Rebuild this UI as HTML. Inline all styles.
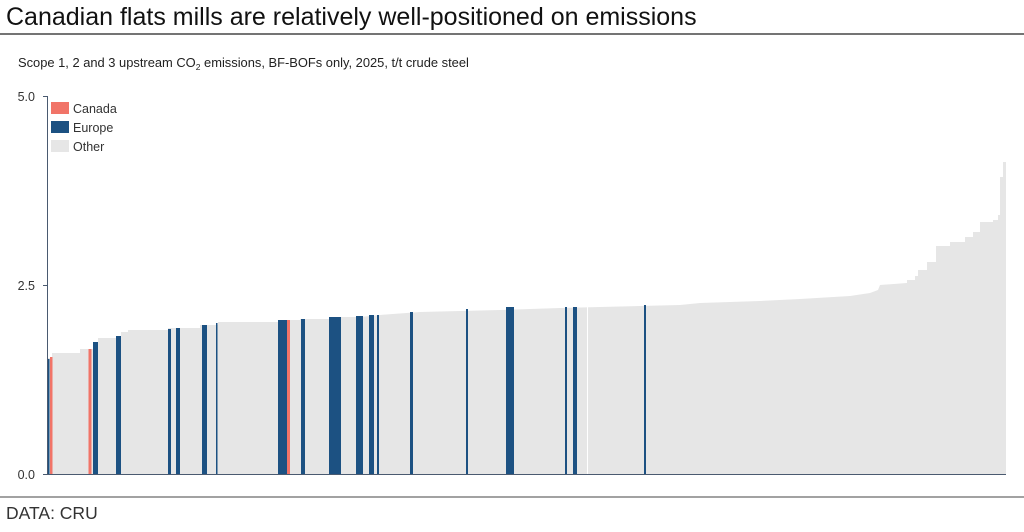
<!DOCTYPE html>
<html><head><meta charset="utf-8"><style>
body{margin:0;background:#fff;font-family:"Liberation Sans",Arial,sans-serif;}
</style></head><body>
<svg width="1024" height="527" viewBox="0 0 1024 527" xmlns="http://www.w3.org/2000/svg" font-family="Liberation Sans, Arial, sans-serif">
<text x="6" y="25" font-size="25" fill="#111">Canadian flats mills are relatively well-positioned on emissions</text>
<line x1="0" y1="34" x2="1024" y2="34" stroke="#222" stroke-width="1.2"/>
<text x="18" y="67" font-size="12.9" fill="#222">Scope 1, 2 and 3 upstream CO<tspan font-size="8.5" dy="3">2</tspan><tspan dy="-3"> emissions, BF-BOFs only, 2025, t/t crude steel</tspan></text>
<polygon fill="#e6e6e6" points="48,474 48,358 52,358 52,353 80,353 80,349 93,349 93,342 98,342 98,338 116,338 116,336 121,336 121,332 128,332 128,330 168,330 168,328 200,328 200,325 218,325 218,322 278,322 278,320 300,320 300,319 330,319 330,317 360,317 380,315 420,312 500,310 560,308 600,307 680,305 700,303 760,301 800,299 850,296 870,293 878,290 880,285 907,283 907,280 915,280 915,276 918,276 918,270 927,270 927,262 936,262 936,246 950,246 950,242 965,242 965,237 973,237 973,232 980,232 980,222 993,222 993,220 998,220 998,215 1000,215 1000,177 1003,177 1003,162 1006,162 1006,474"/>
<line x1="587.5" y1="305" x2="587.5" y2="474" stroke="#fff" stroke-width="1"/>
<g fill="#1c5182">
<rect x="48" y="359" width="1.5" height="115"/>
<rect x="93" y="342" width="5" height="132"/>
<rect x="116" y="336" width="5" height="138"/>
<rect x="168" y="329" width="3" height="145"/>
<rect x="176" y="328" width="4" height="146"/>
<rect x="202" y="325" width="5" height="149"/>
<rect x="216" y="323" width="1.5" height="151"/>
<rect x="278" y="320" width="9" height="154"/>
<rect x="301" y="319" width="4" height="155"/>
<rect x="329" y="317" width="12" height="157"/>
<rect x="356" y="316" width="7" height="158"/>
<rect x="369" y="315" width="5" height="159"/>
<rect x="377" y="315" width="2" height="159"/>
<rect x="410" y="312" width="3" height="162"/>
<rect x="466" y="309" width="2" height="165"/>
<rect x="506" y="307" width="8" height="167"/>
<rect x="565" y="307" width="2" height="167"/>
<rect x="573" y="307" width="4" height="167"/>
<rect x="644" y="305" width="2" height="169"/>
</g>
<g fill="#f17468">
<rect x="50" y="357" width="2.5" height="117"/>
<rect x="88.5" y="349" width="3" height="125"/>
<rect x="287" y="320" width="3" height="154"/>
</g>
<line x1="47.5" y1="96" x2="47.5" y2="475" stroke="#4a5a70" stroke-width="1"/>
<line x1="43" y1="96.5" x2="48" y2="96.5" stroke="#4a5a70"/>
<line x1="43" y1="285.5" x2="48" y2="285.5" stroke="#4a5a70"/>
<line x1="43" y1="474.5" x2="1006" y2="474.5" stroke="#4a5a70"/>
<g font-size="12.5" fill="#333" text-anchor="end">
<text x="35" y="101">5.0</text>
<text x="35" y="290">2.5</text>
<text x="35" y="479">0.0</text>
</g>
<rect x="51" y="102" width="18" height="12" fill="#f17468"/>
<rect x="51" y="121" width="18" height="12" fill="#1c5182"/>
<rect x="51" y="140" width="18" height="12" fill="#e6e6e6"/>
<g font-size="12.5" fill="#333">
<text x="73" y="113">Canada</text>
<text x="73" y="132">Europe</text>
<text x="73" y="151">Other</text>
</g>
<line x1="0" y1="497" x2="1024" y2="497" stroke="#444" stroke-width="1"/>
<text x="6" y="519" font-size="17.5" fill="#333">DATA: CRU</text>
</svg>
</body></html>
